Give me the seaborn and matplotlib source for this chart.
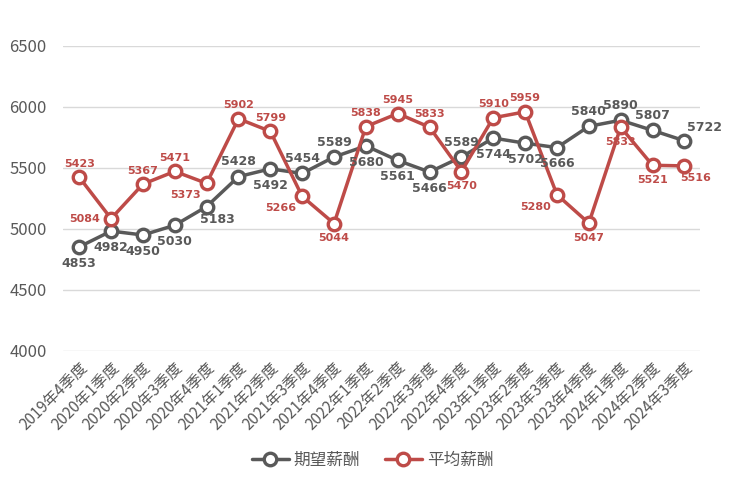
import matplotlib
matplotlib.use("Agg")
import matplotlib.pyplot as plt
import seaborn as sns
import pandas as pd

quarters = ["2019年4季度", "2020年1季度", "2020年2季度", "2020年3季度", "2020年4季度",
            "2021年1季度", "2021年2季度", "2021年3季度", "2021年4季度", "2022年1季度",
            "2022年2季度", "2022年3季度", "2022年4季度", "2023年1季度", "2023年2季度",
            "2023年3季度", "2023年4季度", "2024年1季度", "2024年2季度", "2024年3季度"]
expected = [4853, 4982, 4950, 5030, 5183, 5428, 5492, 5454, 5589, 5680,
            5561, 5466, 5589, 5744, 5702, 5666, 5840, 5890, 5807, 5722]
average = [5423, 5084, 5367, 5471, 5373, 5902, 5799, 5266, 5044, 5838,
           5945, 5833, 5470, 5910, 5959, 5280, 5047, 5833, 5521, 5516]
series_names = ["期望薪酬", "平均薪酬"]
yticks = [4000, 4500, 5000, 5500, 6000, 6500]

# label placement styles (u=above, d=below, l=left, dl=below-left, dr=below-right, ur=above-right)
exp_pos = ["d", "d", "d", "d", "dr", "u", "d", "u", "u", "d",
           "d", "d", "u", "d", "d", "d", "u", "u", "u", "ur"]
avg_pos = ["u", "l", "u", "u", "dl", "u", "u", "dl", "d", "u",
           "u", "u", "d", "u", "u", "dl", "d", "d", "d", "dr"]

sns.set_theme(style="white")
plt.rcParams['font.family'] = ['Noto Sans CJK SC', 'DejaVu Sans']

GRAY = "#595959"
RED = "#BE4B48"

df = pd.DataFrame({
    "quarter": quarters * 2,
    "value": expected + average,
    "series": [series_names[0]] * len(quarters) + [series_names[1]] * len(quarters),
})

fig = plt.figure(figsize=(7.45, 4.92), dpi=100)
ax = fig.add_axes([0.085, 0.2866, 0.855, 0.6204])

sns.lineplot(data=df, x="quarter", y="value", hue="series", sort=False,
             palette=[GRAY, RED], marker="o", markersize=9, markerfacecolor="white",
             markeredgewidth=2.4, linewidth=2.5, ax=ax, legend=True)
for line in ax.lines:
    line.set_markeredgecolor(line.get_color())

ax.set_ylim(4000, 6500)
ax.set_xlim(-0.5, len(quarters) - 0.5)
ax.set_yticks(yticks)
ax.yaxis.grid(True, color="#D9D9D9", linewidth=1)
ax.set_axisbelow(True)
for s in ax.spines.values():
    s.set_visible(False)
ax.set_xlabel("")
ax.set_ylabel("")
ax.tick_params(axis="y", labelsize=12, labelcolor=GRAY, length=0, pad=12)
ax.tick_params(axis="x", labelsize=11, labelcolor=GRAY, length=0, pad=6)
plt.setp(ax.get_xticklabels(), rotation=45, ha="right", rotation_mode="anchor")

offsets = {"u": (0, 6, "center", "bottom"), "d": (0, -7, "center", "top"),
           "l": (-8, 0, "right", "center"), "dl": (-4, -5, "right", "top"),
           "dr": (8, -5, "center", "top"), "ur": (2, 5, "left", "bottom")}

def annotate(vals, pos, color, size):
    for i, (v, p) in enumerate(zip(vals, pos)):
        dx, dy, ha, va = offsets[p]
        ax.annotate(str(v), (i, v), xytext=(dx, dy), textcoords="offset points",
                    ha=ha, va=va, fontsize=size, color=color, fontweight="bold",
                    family=["DejaVu Sans"])

annotate(expected, exp_pos, GRAY, 9)
annotate(average, avg_pos, RED, 8)

handles, labels = ax.get_legend_handles_labels()
ax.legend(handles, labels, loc="center", bbox_to_anchor=(0.5, 0.065),
          bbox_transform=fig.transFigure, ncol=2, frameon=False, fontsize=12,
          labelcolor=GRAY, handlelength=2.2, columnspacing=1.5, handletextpad=0.3)

fig.savefig("out.png", dpi=100)
